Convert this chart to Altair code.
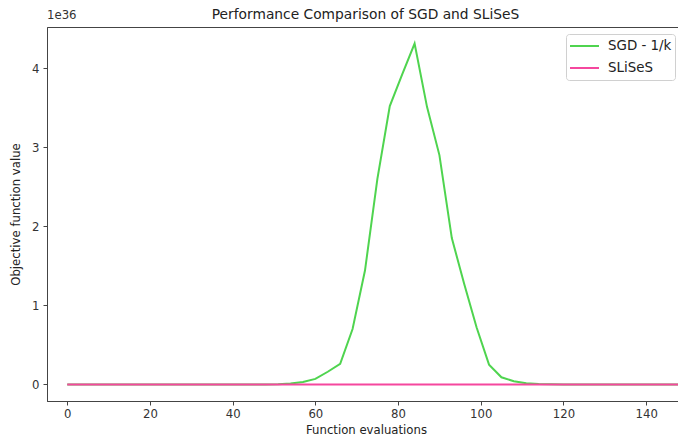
import altair as alt
import pandas as pd

x_vals = [0, 3, 6, 9, 12, 15, 18, 21, 24, 27, 30, 33, 36, 39, 42, 45, 48, 51,
          54, 57, 60, 63, 66, 69, 72, 75, 78, 81, 84, 87, 90, 93, 96, 99, 102,
          105, 108, 111, 114, 117, 120, 123, 126, 129, 132, 135, 138, 141, 144,
          147, 150]
sgd_vals = [0, 0, 0, 0, 0, 0, 0, 0, 0, 0, 0, 0, 0, 0, 0, 0, 0, 0.002,
            0.01, 0.03, 0.07, 0.16, 0.26, 0.70, 1.44, 2.60, 3.52, 3.92, 4.31,
            3.51, 2.90, 1.85, 1.27, 0.72, 0.25, 0.09, 0.04, 0.015, 0.005, 0.001,
            0, 0, 0, 0, 0, 0, 0, 0, 0, 0, 0]
slises_vals = [0] * len(x_vals)
series_names = ["SGD - 1/k", "SLiSeS"]
series_colors = ["#4fd44f", "#f5479e"]

rows = []
for x, v in zip(x_vals, sgd_vals):
    rows.append({"x": x, "y": v, "series": series_names[0]})
for x, v in zip(x_vals, slises_vals):
    rows.append({"x": x, "y": v, "series": series_names[1]})
df = pd.DataFrame(rows)

FONT = "DejaVu Sans"

lines = alt.Chart(df).mark_line(strokeWidth=2, clip=True).encode(
    x=alt.X("x:Q", scale=alt.Scale(domain=[-4.9, 147.7], nice=False, zero=False),
            axis=alt.Axis(title="Function evaluations", values=[0, 20, 40, 60, 80, 100, 120, 140],
                          grid=False, tickSize=4, labelPadding=3, titlePadding=5,
                          titleX=319)),
    y=alt.Y("y:Q", scale=alt.Scale(domain=[-0.21, 4.52], nice=False, zero=False),
            axis=alt.Axis(title="Objective function value", values=[0, 1, 2, 3, 4],
                          grid=False, tickSize=4, labelPadding=4, titlePadding=10,
                          format="d")),
    color=alt.Color("series:N", scale=alt.Scale(domain=series_names, range=series_colors),
                    legend=alt.Legend(title=None, orient="none", legendX=519, legendY=7,
                                      symbolType="stroke", symbolSize=841,
                                      symbolStrokeWidth=2, labelFontSize=13.4,
                                      labelFont=FONT, labelColor="#222",
                                      labelOffset=8, rowPadding=4, clipHeight=18,
                                      strokeColor="#d0d0d0", cornerRadius=3,
                                      padding=3, fillColor="white")),
    order=alt.Order("series:N"),
    detail="series:N",
)

sci = alt.Chart(pd.DataFrame({"t": ["1e36"]})).mark_text(
    align="left", baseline="alphabetic", font=FONT, fontSize=11.7, color="#333"
).encode(x=alt.value(0), y=alt.value(-8), text="t:N")

chart = alt.layer(lines, sci).properties(
    width=631, height=374,
    autosize=alt.AutoSizeParams(type="none"),
    padding={"left": 47, "top": 27, "right": 0, "bottom": 37},
    title=alt.TitleParams("Performance Comparison of SGD and SLiSeS", font=FONT,
                          fontSize=13.8, fontWeight="normal", color="#222",
                          offset=-12, dx=3),
).configure_view(stroke="#444", strokeWidth=1).configure_axis(
    labelFont=FONT, titleFont=FONT, labelFontSize=11.7, titleFontSize=11.7,
    titleFontWeight="normal", labelColor="#333", titleColor="#222",
    domainColor="#444", tickColor="#444"
)

chart.save("out.html", embed_options={"renderer": "svg", "actions": False})
